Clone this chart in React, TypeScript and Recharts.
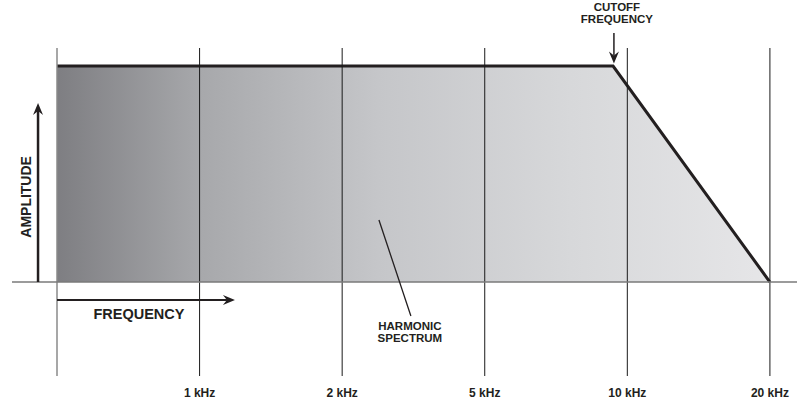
import React from "react";
import {
  ComposedChart,
  Area,
  XAxis,
  YAxis,
  ReferenceLine,
  ReferenceDot,
} from "recharts";

// Spectrum envelope (x = grid position index, y = relative amplitude)
const spectrumX = [0, 3.9, 5];
const spectrumY = [1, 1, 0];
const gridPositions = [0, 1, 2, 3, 4, 5];
const tickPositions = [1, 2, 3, 4, 5];
const tickLabels = ["1 kHz", "2 kHz", "5 kHz", "10 kHz", "20 kHz"];

const data = spectrumX.map((x, i) => ({ x, y: spectrumY[i] }));

const FONT = "'Liberation Sans', Arial, sans-serif";
const INK = "#231f20";

const Arrow = (props: any) => {
  const { x1, y1, x2, y2, stroke, strokeWidth } = props;
  const dx = x2 - x1;
  const dy = y2 - y1;
  const len = Math.sqrt(dx * dx + dy * dy) || 1;
  const ux = dx / len;
  const uy = dy / len;
  const px = -uy;
  const py = ux;
  const hl = 12;
  const hw = 5;
  const notch = 8;
  const bx = x2 - ux * hl;
  const by = y2 - uy * hl;
  const nx = x2 - ux * notch;
  const ny = y2 - uy * notch;
  const pts = [
    [x2, y2],
    [bx + px * hw, by + py * hw],
    [nx, ny],
    [bx - px * hw, by - py * hw],
  ]
    .map((p) => p.join(","))
    .join(" ");
  return (
    <g>
      <line x1={x1} y1={y1} x2={nx} y2={ny} stroke={stroke} strokeWidth={strokeWidth} />
      <polygon points={pts} fill={stroke} />
    </g>
  );
};

const TextAt = (lines: string[], size: number, rotate = 0, lineGap = 12) => (props: any) => {
  const { cx, cy } = props;
  const n = lines.length;
  const start = cy - ((n - 1) * lineGap) / 2;
  return (
    <text
      x={cx}
      y={start}
      textAnchor="middle"
      dominantBaseline="central"
      fontFamily={FONT}
      fontWeight="bold"
      fontSize={size}
      fill={INK}
      transform={rotate ? `rotate(${rotate} ${cx} ${cy})` : undefined}
    >
      {lines.map((l, i) => (
        <tspan key={i} x={cx} y={start + i * lineGap} dominantBaseline="central">
          {l}
        </tspan>
      ))}
    </text>
  );
};

export default function App() {
  return (
    <div style={{ position: "absolute", left: 0, top: 0, background: "#fff" }}>
      <ComposedChart
        width={809}
        height={400}
        data={data}
        margin={{ top: 48, right: 12, bottom: 4, left: 12 }}
      >
        <defs>
          <linearGradient id="specGrad" x1="0" y1="0" x2="1" y2="0">
            <stop offset="0" stopColor="#7e7e82" />
            <stop offset="0.2" stopColor="#a7a8ab" />
            <stop offset="0.45" stopColor="#c5c6c9" />
            <stop offset="0.72" stopColor="#d7d8da" />
            <stop offset="1" stopColor="#e6e6e8" />
          </linearGradient>
        </defs>
        <XAxis
          dataKey="x"
          type="number"
          domain={[-0.3156, 5.19]}
          allowDataOverflow
          ticks={tickPositions}
          tickFormatter={(v: number) => tickLabels[tickPositions.indexOf(v)] ?? ""}
          axisLine={false}
          tickLine={false}
          tickMargin={6}
          height={20}
          tick={{ fontFamily: FONT, fontWeight: "bold", fontSize: 12, fill: INK }}
          interval={0}
        />
        <YAxis type="number" domain={[-0.435, 1.0833]} allowDataOverflow hide />
        <Area
          dataKey="y"
          type="linear"
          baseValue={0}
          stroke={INK}
          strokeWidth={3}
          fill="url(#specGrad)"
          fillOpacity={1}
          isAnimationActive={false}
          dot={false}
          activeDot={false}
        />
        {gridPositions.map((g) => (
          <ReferenceLine
            key={g}
            x={g}
            stroke={g === 0 ? "#8a8a8a" : "#1a1a1a"}
            strokeWidth={g === 0 ? 1.5 : 1}
          />
        ))}
        <ReferenceLine y={0} stroke="#7a7a7a" strokeWidth={1.6} />
        {/* Amplitude arrow */}
        <ReferenceLine
          segment={[
            { x: -0.133, y: 0 },
            { x: -0.133, y: 0.829 },
          ]}
          ifOverflow="visible"
          stroke={INK}
          strokeWidth={2.5}
          shape={Arrow}
        />
        {/* Frequency arrow */}
        <ReferenceLine
          segment={[
            { x: 0, y: -0.0833 },
            { x: 1.248, y: -0.0833 },
          ]}
          ifOverflow="visible"
          stroke={INK}
          strokeWidth={2}
          shape={Arrow}
        />
        {/* Cutoff arrow */}
        <ReferenceLine
          segment={[
            { x: 3.906, y: 1.153 },
            { x: 3.906, y: 1.012 },
          ]}
          ifOverflow="visible"
          stroke={INK}
          strokeWidth={1.5}
          shape={Arrow}
        />
        {/* Harmonic spectrum pointer */}
        <ReferenceLine
          segment={[
            { x: 2.258, y: 0.287 },
            { x: 2.482, y: -0.157 },
          ]}
          ifOverflow="visible"
          stroke={INK}
          strokeWidth={1.3}
        />
        <ReferenceDot
          x={-0.217}
          y={0.394}
          r={0}
          ifOverflow="visible"
          shape={TextAt(["AMPLITUDE"], 14, -90)}
        />
        <ReferenceDot
          x={0.575}
          y={-0.148}
          r={0}
          ifOverflow="visible"
          shape={TextAt(["FREQUENCY"], 14.5)}
        />
        <ReferenceDot
          x={3.927}
          y={1.245}
          r={0}
          ifOverflow="visible"
          shape={TextAt(["CUTOFF", "FREQUENCY"], 11.5, 0, 12)}
        />
        <ReferenceDot
          x={2.475}
          y={-0.23}
          r={0}
          ifOverflow="visible"
          shape={TextAt(["HARMONIC", "SPECTRUM"], 11.5, 0, 12)}
        />
      </ComposedChart>
    </div>
  );
}
